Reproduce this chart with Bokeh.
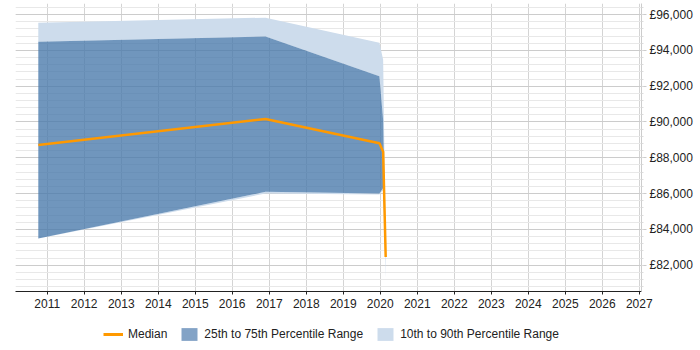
import pandas as pd
from bokeh.plotting import figure
from bokeh.layouts import column
from bokeh.models import (Range1d, FixedTicker, DatetimeTickFormatter, Legend,
                          LegendItem, ColumnDataSource)
from bokeh.embed import file_html
from bokeh.resources import INLINE

# ---- data ----
dates = ["2010-10-05", "2016-11-25", "2019-12-24", "2020-01-30", "2020-02-24"]
p10 = [83490, 86000, 85950, 86200, 81270]
p25 = [83490, 86100, 86010, 86310, 82380]
median = [88720, 90170, 88810, 88340, 82460]
p75 = [94490, 94770, 92550, 90100, 82500]
p90 = [95550, 95830, 94430, 93480, 82700]

year_ticks = list(range(2011, 2028))
y_ticks = [82000, 84000, 86000, 88000, 90000, 92000, 94000, 96000]
y_tick_labels = ["£82,000", "£84,000", "£86,000", "£88,000",
                 "£90,000", "£92,000", "£94,000", "£96,000"]

FONT = "Liberation Sans"
light = "#cddcec"
dark = "#4878ab"
orange = "#ff9900"

src = ColumnDataSource(dict(x=pd.to_datetime(dates), p10=p10, p25=p25,
                            median=median, p75=p75, p90=p90))

def ms(ts):
    return pd.Timestamp(ts).timestamp() * 1000.0

p = figure(width=700, height=318, output_backend="svg", toolbar_location=None,
           x_axis_type="datetime", y_axis_location="right",
           x_range=Range1d(ms("2010-02-22"), ms("2027-01-23")),
           y_range=Range1d(80530, 96620))
p.min_border_left = 15
p.min_border_right = 59
p.min_border_top = 3
p.min_border_bottom = 27
p.outline_line_color = None

p.varea(x="x", y1="p75", y2="p90", source=src, fill_color=light, fill_alpha=1.0)
p.varea(x="x", y1="p10", y2="p25", source=src, fill_color=light, fill_alpha=1.0)
p.varea(x="x", y1="p25", y2="p75", source=src, fill_color=dark, fill_alpha=0.78)
p.line(x="x", y="median", source=src, line_color=orange, line_width=2.5)

# x axis
xt = FixedTicker(ticks=[ms(f"{y}-01-01") for y in year_ticks])
p.xaxis.ticker = xt
p.xaxis.formatter = DatetimeTickFormatter(years="%Y", months="%Y", days="%Y",
                                          hours="%Y", minutes="%Y", seconds="%Y",
                                          milliseconds="%Y", microseconds="%Y",
                                          hourmin="%Y", minsec="%Y")
p.xaxis.axis_line_color = "#222222"
p.xaxis.major_tick_line_color = "#222222"
p.xaxis.major_tick_out = 3
p.xaxis.major_tick_in = 0
p.xaxis.minor_tick_line_color = None
p.xaxis.major_label_standoff = 4
p.xaxis.major_label_text_font = FONT
p.xaxis.major_label_text_font_size = "12px"
p.xaxis.major_label_text_color = "#222222"

# y axis (right)
minor = [80800 + 400 * i for i in range(40) if 80800 + 400 * i <= 96400]
yt = FixedTicker(ticks=y_ticks, minor_ticks=minor)
p.yaxis.ticker = yt
p.yaxis.major_label_overrides = {t: l for t, l in zip(y_ticks, y_tick_labels)}
p.yaxis.axis_line_color = "#cccccc"
p.yaxis.major_tick_line_color = "#cccccc"
p.yaxis.major_tick_out = 5
p.yaxis.major_tick_in = 0
p.yaxis.minor_tick_line_color = "#dddddd"
p.yaxis.minor_tick_out = 2
p.yaxis.minor_tick_in = 0
p.yaxis.major_label_standoff = 3
p.yaxis.major_label_text_font = FONT
p.yaxis.major_label_text_font_size = "12px"
p.yaxis.major_label_text_color = "#222222"

# grids
p.xgrid.grid_line_color = "#d4d4d4"
p.ygrid.grid_line_color = "#cccccc"
p.ygrid.minor_grid_line_color = "#e8e8e8"

# legend strip below the chart (same data, out of view, only for swatches)
lg = figure(width=700, height=32, output_backend="svg", toolbar_location=None,
            x_range=Range1d(0, 1), y_range=Range1d(0, 1))
lg.axis.visible = False
lg.grid.visible = False
lg.outline_line_color = None
lg.min_border_left = 0
lg.min_border_right = 0
lg.min_border_top = 0
lg.min_border_bottom = 0
e_m = lg.line(x="x", y="median", source=src, line_color=orange, line_width=3)
e_d = lg.varea(x="x", y1="p25", y2="p75", source=src, fill_color=dark, fill_alpha=0.68)
e_l = lg.varea(x="x", y1="p75", y2="p90", source=src, fill_color=light, fill_alpha=1.0)

legend = Legend(items=[
    LegendItem(label="Median", renderers=[e_m]),
    LegendItem(label="25th to 75th Percentile Range", renderers=[e_d]),
    LegendItem(label="10th to 90th Percentile Range", renderers=[e_l]),
], orientation="horizontal", location=(80, 0))
legend.glyph_width = 20
legend.glyph_height = 16
legend.label_standoff = 5
legend.spacing = 12
legend.padding = 8
legend.margin = 0
legend.border_line_alpha = 0
legend.background_fill_alpha = 0
legend.label_text_font = FONT
legend.label_text_font_size = "12px"
legend.label_text_color = "#222222"
lg.add_layout(legend, "center")

open("out.html", "w").write(file_html(column(p, lg, spacing=0), INLINE))
